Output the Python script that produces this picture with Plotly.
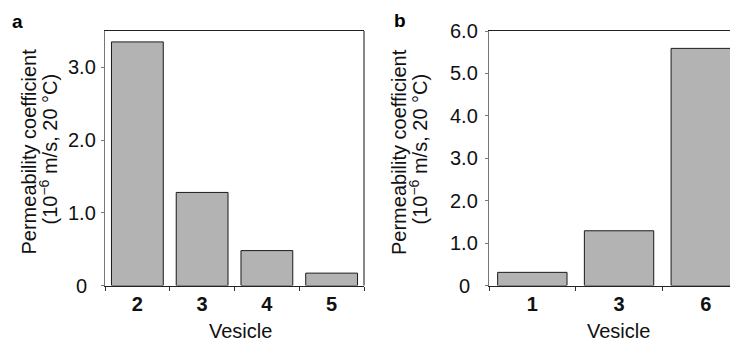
import plotly.graph_objects as go

# ---- data ----
cats_a = ["2", "3", "4", "5"]
vals_a = [3.35, 1.28, 0.48, 0.17]
cats_b = ["1", "3", "6"]
vals_b = [0.31, 1.29, 5.59]
yticks_a = [0, 1.0, 2.0, 3.0]
yticklabels_a = ["0", "1.0", "2.0", "3.0"]
yticks_b = [0, 1.0, 2.0, 3.0, 4.0, 5.0, 6.0]
yticklabels_b = ["0", "1.0", "2.0", "3.0", "4.0", "5.0", "6.0"]
panel_labels = ["a", "b"]
x_title = "Vesicle"
y_title_1 = "Permeability coefficient"
y_title_2 = "(10<sup>−6</sup> m/s, 20 °C)"

PAGE_W, PAGE_H = 738, 341
OFF = 8  # default body margin of the html page
W, H = PAGE_W - OFF, PAGE_H - OFF
FONT = "Arial, Liberation Sans, sans-serif"


def px(x):
    return (x - OFF) / W


def py(y):
    return (PAGE_H - y) / H


BAR_FILL = "#b3b3b3"
BAR_LINE = "#1a1a1a"

fig = go.Figure()
fig.add_trace(go.Bar(x=cats_a, y=vals_a, marker=dict(color=BAR_FILL, line=dict(color=BAR_LINE, width=1)),
                     xaxis="x", yaxis="y", showlegend=False))
fig.add_trace(go.Bar(x=cats_b, y=vals_b, marker=dict(color=BAR_FILL, line=dict(color=BAR_LINE, width=1)),
                     xaxis="x2", yaxis="y2", showlegend=False))

ydom = [py(285.5), py(31)]
xdom_a = [px(105), px(364)]
xdom_b = [px(489), 1.0]
slot_b = (575.7 - 489)
xmax_b = -0.5 + (PAGE_W - 489) / slot_b

xcommon = dict(type="category", showline=True, linecolor="#222", linewidth=1, mirror=True,
               ticks="outside", ticklen=4, tickcolor="#333", tickson="boundaries",
               showgrid=False, zeroline=False,
               tickfont=dict(family=FONT, size=20, color="#111", weight="bold"))
ycommon = dict(showline=True, linecolor="#777", linewidth=1, mirror=False,
               ticks="outside", ticklen=3, tickcolor="#777",
               showgrid=False, zeroline=False, showticklabels=False)

fig.update_layout(
    width=W, height=H,
    margin=dict(l=0, r=0, t=0, b=0),
    paper_bgcolor="white", plot_bgcolor="white",
    bargap=0.2,
    font=dict(family=FONT, size=20, color="#111"),
    xaxis=dict(domain=xdom_a, range=[-0.5, len(cats_a) - 0.5], anchor="y", **xcommon),
    yaxis=dict(domain=ydom, range=[0, 3.5], tickvals=yticks_a, anchor="x", **ycommon),
    xaxis2=dict(domain=xdom_b, range=[-0.5, xmax_b], anchor="y2", **xcommon),
    yaxis2=dict(domain=ydom, range=[0, 6.0], tickvals=yticks_b, anchor="x2", **ycommon),
)

# right border of panel a (black)
fig.add_shape(type="line", xref="x domain", yref="y domain", x0=1, x1=1, y0=0, y1=1,
              line=dict(color="#111", width=1))

ann = []
# centred y tick labels
for v, t in zip(yticks_a, yticklabels_a):
    ann.append(dict(x=px(81.7), xref="paper", y=v, yref="y", text=t, showarrow=False,
                    xanchor="center", yanchor="middle", font=dict(size=20, color="#111")))
for v, t in zip(yticks_b, yticklabels_b):
    ann.append(dict(x=px(464), xref="paper", y=v, yref="y2", text=t, showarrow=False,
                    xanchor="center", yanchor="middle", font=dict(size=20, color="#111")))
# y titles
for x1, x2 in [(28.5, 47.5), (399, 417.5)]:
    ann.append(dict(x=px(x1), y=py(152), xref="paper", yref="paper", text=y_title_1, textangle=-90,
                    showarrow=False, xanchor="center", yanchor="middle", font=dict(size=20, color="#111")))
    ann.append(dict(x=px(x2), y=py(149), xref="paper", yref="paper", text=y_title_2, textangle=-90,
                    showarrow=False, xanchor="center", yanchor="middle", font=dict(size=20, color="#111")))
# x titles
for xc in [240, 618]:
    ann.append(dict(x=px(xc), y=py(331), xref="paper", yref="paper", text=x_title, showarrow=False,
                    xanchor="center", yanchor="middle", font=dict(size=20, color="#111")))
# panel labels
for (xc, yc), lab in zip([(17.5, 21), (400, 20.5)], panel_labels):
    ann.append(dict(x=px(xc), y=py(yc), xref="paper", yref="paper", text="<b>%s</b>" % lab, showarrow=False,
                    xanchor="center", yanchor="middle", font=dict(size=19, color="#000")))

fig.update_layout(annotations=ann)
fig.write_html("out.html")
